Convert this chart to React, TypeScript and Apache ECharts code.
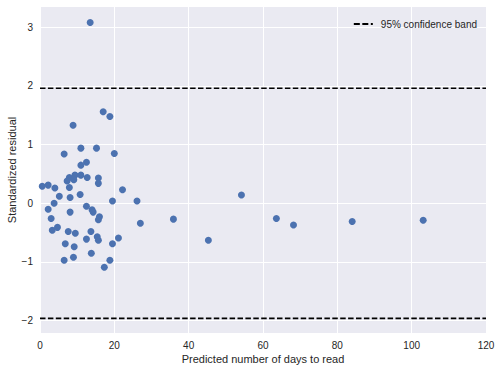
import React, { useEffect, useRef } from "react";
import * as echarts from "echarts";

const predictedDays: number[] = [
  17.0, 18.8, 8.9, 11.0, 15.2, 6.5, 20.0, 12.5, 11.0, 7.9,
  9.4, 11.0, 12.7, 7.3, 9.1, 15.7, 15.7, 0.6, 2.2, 4.0,
  7.9, 22.2, 5.2, 8.1, 10.8, 3.8, 19.5, 26.1, 2.2, 12.5,
  14.0, 14.3, 8.1, 16.0, 15.7, 3.0, 27.0, 3.3, 4.7, 7.6,
  9.5, 13.7, 12.5, 15.4, 15.7, 21.1, 6.8, 9.2, 19.5, 13.8,
  6.5, 9.0, 18.8, 17.3, 13.5, 35.9, 45.3, 54.2, 63.6, 68.2,
  84.0, 103.1,
];
const residuals: number[] = [
  1.56, 1.48, 1.33, 0.94, 0.94, 0.84, 0.85, 0.7, 0.65, 0.44,
  0.48, 0.48, 0.44, 0.38, 0.4, 0.43, 0.34, 0.29, 0.31, 0.26,
  0.27, 0.23, 0.12, 0.1, 0.15, 0.0, 0.04, 0.04, -0.1, -0.05,
  -0.11, -0.15, -0.15, -0.23, -0.28, -0.26, -0.34, -0.46, -0.41, -0.48,
  -0.51, -0.48, -0.61, -0.57, -0.63, -0.59, -0.69, -0.74, -0.69, -0.85,
  -0.97, -0.92, -0.97, -1.09, 3.08, -0.27, -0.63, 0.14, -0.26, -0.37,
  -0.31, -0.29,
];
const bandValue = 1.96;
const xTicks: number[] = [0, 20, 40, 60, 80, 100, 120];
const yTicks: number[] = [-2, -1, 0, 1, 2, 3];
const bandName = "95% confidence band";

export default function App() {
  const ref = useRef<HTMLDivElement>(null);
  useEffect(() => {
    if (!ref.current) return;
    const chart = echarts.init(ref.current, null, { renderer: "svg" });
    const font = "'Liberation Sans', Arial, sans-serif";
    const txt = "#262626";
    chart.setOption({
      animation: false,
      backgroundColor: "#ffffff",
      textStyle: { fontFamily: font },
      grid: {
        left: 40,
        top: 7,
        right: 15,
        bottom: 38,
        show: true,
        backgroundColor: "#EAEAF2",
        borderWidth: 0,
        containLabel: false,
        outerBoundsMode: "none",
      },
      legend: {
        data: [
          {
            name: bandName,
            icon: "path://M0,0H6V2H0Z M8.5,0H14.5V2H8.5Z M17,0H19V2H17Z",
          },
        ],
        right: 19,
        top: 14,
        itemWidth: 21,
        itemHeight: 2,
        itemGap: 5,
        textStyle: { fontSize: 10, color: txt, fontFamily: font, padding: [0, 0, 0, 2] },
      },
      xAxis: {
        type: "value",
        min: xTicks[0],
        max: xTicks[xTicks.length - 1],
        interval: 20,
        name: "Predicted number of days to read",
        nameLocation: "middle",
        nameGap: 20,
        nameMoveOverlap: false,
        nameTextStyle: { fontSize: 11, color: txt, fontFamily: font },
        axisLine: { show: false },
        axisTick: { show: false },
        axisLabel: { fontSize: 10, color: txt, margin: 7, fontFamily: font },
        splitLine: { show: true, lineStyle: { color: "#ffffff", width: 1 } },
      },
      yAxis: {
        type: "value",
        min: -2.21,
        max: 3.345,
        name: "Standardized residual",
        nameLocation: "middle",
        nameGap: 23,
        nameMoveOverlap: false,
        nameTextStyle: { fontSize: 11, color: txt, fontFamily: font },
        axisLine: { show: false },
        axisTick: { show: false, customValues: yTicks },
        axisLabel: {
          fontSize: 10,
          color: txt,
          margin: 7,
          fontFamily: font,
          customValues: yTicks,
          formatter: (v: number) => (v < 0 ? "\u2212" + Math.abs(v) : String(v)),
        },
        splitLine: { show: true, lineStyle: { color: "#ffffff", width: 1 } },
      },
      series: [
        {
          type: "scatter",
          name: "residuals",
          data: predictedDays.map((x, i) => [x, residuals[i]]),
          symbolSize: 7,
          itemStyle: { color: "#4C72B0", opacity: 1 },
        },
        {
          type: "line",
          name: bandName,
          data: [[xTicks[0], bandValue], [xTicks[xTicks.length - 1], bandValue]],
          symbol: "none",
          lineStyle: { color: "#000000", width: 1.6, type: [5.5, 2.4] },
          itemStyle: { color: "#000000" },
          z: 3,
        },
        {
          type: "line",
          name: bandName,
          data: [[xTicks[0], -bandValue], [xTicks[xTicks.length - 1], -bandValue]],
          symbol: "none",
          lineStyle: { color: "#000000", width: 1.6, type: [5.5, 2.4] },
          itemStyle: { color: "#000000" },
          z: 3,
        },
      ],
    });
    return () => chart.dispose();
  }, []);
  return <div ref={ref} style={{ position: "absolute", left: 0, top: 0, width: 501, height: 371 }} />;
}
